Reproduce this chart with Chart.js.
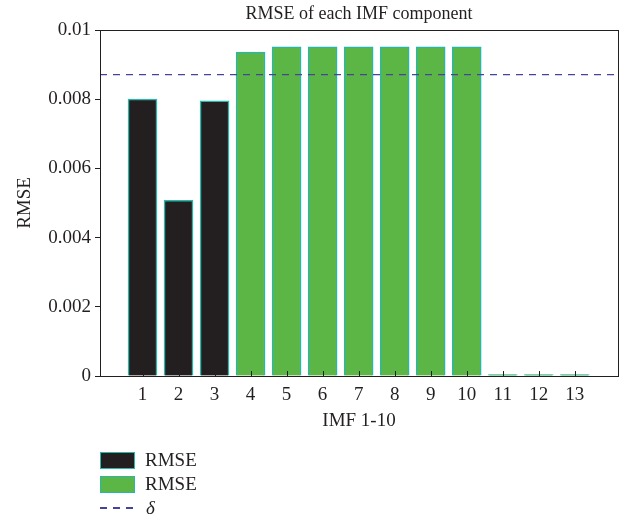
<!DOCTYPE html>
<html>
<head>
<meta charset="utf-8">
<script src="https://cdn.jsdelivr.net/npm/chart.js@4/dist/chart.umd.min.js"></script>
<style>
  html, body { margin: 0; padding: 0; background: #fff; }
  #wrap { position: relative; width: 632px; height: 523px; }
  #legend { position: absolute; left: 100px; top: 448px; font-family: "Liberation Serif", serif; font-size: 19px; color: #231f20; }
  .row { display: flex; align-items: center; height: 24px; }
  .box { width: 33px; height: 15px; border: 1.5px solid #2ab7a9; margin-right: 10px; }
  .dash { width: 36px; height: 1.5px; margin-right: 10px;
          background: repeating-linear-gradient(90deg, #46449a 0 7px, transparent 7px 13px); }
</style>
</head>
<body>
<div id="wrap">
  <canvas id="rmseChart" width="632" height="523"></canvas>
  <div id="legend">
    <div class="row"><div class="box" style="background:#231f20"></div>RMSE</div>
    <div class="row"><div class="box" style="background:#5cb646"></div>RMSE</div>
    <div class="row"><div class="dash"></div><i>δ</i></div>
  </div>
</div>
<script>
// data
const imf = [1, 2, 3, 4, 5, 6, 7, 8, 9, 10, 11, 12, 13];
const rmse = [0.0080, 0.00508, 0.00795, 0.00936, 0.00951, 0.00951, 0.00951, 0.00951, 0.00951, 0.00951, 0.00004, 0.00004, 0.00004];
const blackIMF = [1, 2, 3];
const delta = 0.00871;
const yTicks = [0, 0.002, 0.004, 0.006, 0.008, 0.01];

const ink = "#231f20";
const font = { family: "Liberation Serif", size: 19 };

const blackData = [];
const greenData = [];
imf.forEach((k, i) => {
  if (blackIMF.includes(k)) blackData.push({ x: k, y: rmse[i] });
  else greenData.push({ x: k, y: rmse[i] });
});

// box round the plot + inward ticks on the x axis
const frame = {
  id: "frame",
  afterDatasetsDraw(chart) {
    const { ctx, chartArea: a, scales } = chart;
    ctx.save();
    ctx.strokeStyle = ink;
    ctx.lineWidth = 1;
    ctx.strokeRect(a.left + 0.5, a.top + 0.5, a.right - a.left, a.bottom - a.top);
    imf.forEach(k => {
      const x = Math.round(scales.x.getPixelForValue(k)) + 0.5;
      ctx.beginPath();
      ctx.moveTo(x, a.bottom);
      ctx.lineTo(x, a.bottom - 5);
      ctx.stroke();
    });
    ctx.restore();
  }
};

const ctx = document.getElementById("rmseChart").getContext("2d");
new Chart(ctx, {
  type: "bar",
  data: {
    datasets: [
      {
        label: "RMSE",
        data: blackData,
        backgroundColor: ink,
        borderColor: "#2ab7a9",
        borderWidth: 1.5,
        barThickness: 29,
        order: 2
      },
      {
        label: "RMSE",
        data: greenData,
        backgroundColor: "#5cb646",
        borderColor: "#2ab7a9",
        borderWidth: 1.5,
        barThickness: 29,
        order: 2
      },
      {
        type: "line",
        label: "δ",
        data: [{ x: -0.18, y: delta }, { x: 14.2, y: delta }],
        borderColor: "#46449a",
        borderWidth: 1.3,
        borderDash: [7, 6],
        pointRadius: 0,
        order: 0
      }
    ]
  },
  options: {
    responsive: false,
    animation: false,
    grouped: false,
    layout: { padding: { left: 0, right: 14, top: 0, bottom: 87 } },
    plugins: {
      legend: { display: false },
      tooltip: { enabled: false },
      title: {
        display: true,
        fullSize: false,
        text: "RMSE of each IMF component",
        color: ink,
        font: { family: "Liberation Serif", size: 18, weight: "normal" },
        padding: { top: 3, bottom: 5.4 }
      }
    },
    scales: {
      x: {
        type: "linear",
        offset: false,
        min: -0.18,
        max: 14.2,
        afterFit(s) { s.height = 60; },
        afterBuildTicks(s) { s.ticks = imf.map(v => ({ value: v })); },
        grid: { display: false },
        border: { display: false },
        ticks: { color: ink, font: font, padding: 0, autoSkip: false, maxRotation: 0 },
        title: { display: true, text: "IMF 1-10", color: ink, font: font }
      },
      y: {
        min: 0,
        max: 0.01,
        afterFit(s) { s.width = 100; },
        afterBuildTicks(s) { s.ticks = yTicks.map(v => ({ value: v })); },
        grid: { drawOnChartArea: false, drawTicks: true, tickLength: 5, color: ink },
        border: { display: false },
        ticks: { color: ink, font: font, padding: 4, callback: v => String(+v.toFixed(3)) },
        title: { display: true, text: "RMSE", color: ink, font: font, padding: { top: 14, bottom: 4 } }
      }
    }
  },
  plugins: [frame]
});
</script>
</body>
</html>
